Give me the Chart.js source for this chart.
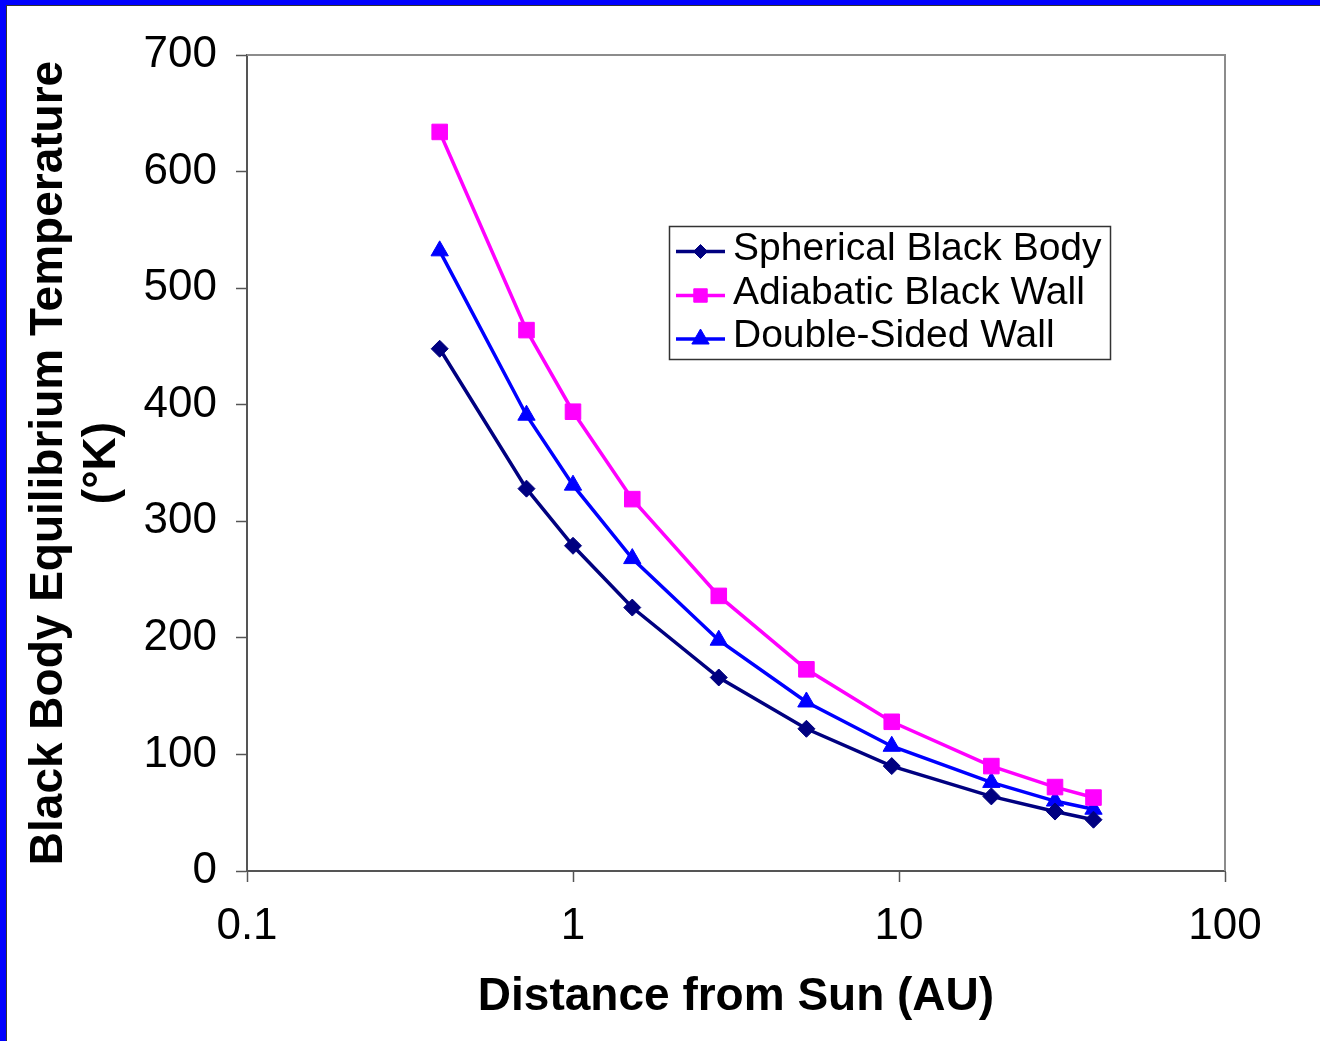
<!DOCTYPE html>
<html>
<head>
<meta charset="utf-8">
<script src="https://cdn.jsdelivr.net/npm/chart.js@4/dist/chart.umd.min.js"></script>
<style>
  html, body { margin: 0; padding: 0; overflow: hidden; background: #0000ff; }
  #frame { position: absolute; left: 6px; top: 5px; width: 1320px; height: 1041px; background: #fff; border-left: 1px solid #333; border-top: 1px solid #333; }
  #wrap { position: absolute; left: 0; top: 0; width: 1320px; height: 1041px; }
</style>
</head>
<body>
<div id="frame"></div>
<div id="wrap"><canvas id="c" width="1320" height="1041"></canvas></div>
<script>
// ---- data ----
const distances = [0.39, 0.72, 1.0, 1.52, 2.8, 5.2, 9.5, 19.2, 30.1, 39.5];
const sphericalBlackBody = [448, 328, 279, 226, 166, 122, 90, 64, 51, 44];
const adiabaticBlackWall = [634, 464, 394, 319, 236, 173, 128, 90, 72, 63];
const doubleSidedWall = [532, 391, 331, 268, 198, 145, 107, 76, 60, 53];
const seriesLabels = ["Spherical Black Body", "Adiabatic Black Wall", "Double-Sided Wall"];
const xTickValues = [0.1, 1, 10, 100];
const yTickValues = [0, 100, 200, 300, 400, 500, 600, 700];
const xTitle = "Distance from Sun (AU)";
const yTitle = ["Black Body Equilibrium Temperature", "(\u00B0K)"];

const FONT = '"Liberation Sans", Arial, Helvetica, sans-serif';
const toPts = (ys) => distances.map((d, i) => ({ x: d, y: ys[i] }));

const styles = [
  { color: '#000080', pointStyle: 'rectRot', r: 8.5, lr: 7 },
  { color: '#ff00ff', pointStyle: 'rect', r: 11, lr: 9.5 },
  { color: '#0000ff', pointStyle: 'triangle', r: 10, lr: 10 }
];
const seriesData = [sphericalBlackBody, adiabaticBlackWall, doubleSidedWall];

const datasets = seriesData.map((ys, i) => ({
  label: seriesLabels[i],
  data: toPts(ys),
  borderColor: styles[i].color,
  backgroundColor: styles[i].color,
  pointBackgroundColor: styles[i].color,
  pointBorderColor: styles[i].color,
  pointStyle: styles[i].pointStyle,
  pointRadius: styles[i].r,
  pointHoverRadius: styles[i].r,
  pointBorderWidth: 1,
  borderWidth: 3.5,
  tension: 0,
  fill: false
}));

const frameAndLegend = {
  id: 'frameAndLegend',
  afterDraw(chart) {
    const ctx = chart.ctx;
    const a = chart.chartArea;
    // top & right plot border
    ctx.save();
    ctx.strokeStyle = '#8c8c8c';
    ctx.lineWidth = 2;
    ctx.beginPath();
    ctx.moveTo(a.left, a.top);
    ctx.lineTo(a.right, a.top);
    ctx.lineTo(a.right, a.bottom);
    ctx.stroke();
    ctx.restore();

    // legend box
    const bx = 669.5, by = 226.5, bw = 441, bh = 133;
    ctx.save();
    ctx.fillStyle = '#ffffff';
    ctx.fillRect(bx, by, bw, bh);
    ctx.strokeStyle = '#333';
    ctx.lineWidth = 1.5;
    ctx.strokeRect(bx, by, bw, bh);
    const rowY = [251.5, 295.5, 339];
    chart.data.datasets.forEach((ds, i) => {
      const y = rowY[i];
      ctx.strokeStyle = ds.borderColor;
      ctx.lineWidth = 3.5;
      ctx.beginPath();
      ctx.moveTo(676, y);
      ctx.lineTo(725, y);
      ctx.stroke();
      ctx.fillStyle = ds.pointBackgroundColor;
      ctx.strokeStyle = ds.pointBorderColor;
      ctx.lineWidth = 1;
      Chart.helpers.drawPoint(ctx, { pointStyle: ds.pointStyle, radius: styles[i].lr, rotation: 0, borderWidth: 1 }, 700.5, y);
      ctx.fillStyle = '#000';
      ctx.font = '39px ' + FONT;
      ctx.textBaseline = 'alphabetic';
      ctx.textAlign = 'left';
      ctx.fillText(ds.label, 733, y + 8);
    });
    ctx.restore();
  }
};

new Chart(document.getElementById('c'), {
  type: 'line',
  data: { datasets },
  plugins: [frameAndLegend],
  options: {
    responsive: false,
    animation: false,
    devicePixelRatio: 1,
    layout: { padding: { left: 0, top: 55, right: 95, bottom: 0 } },
    plugins: { legend: { display: false }, tooltip: { enabled: false } },
    scales: {
      x: {
        type: 'logarithmic',
        min: 0.1, max: 100,
        afterBuildTicks(scale) { scale.ticks = xTickValues.map(v => ({ value: v })); },
        afterFit(scale) { scale.height = 170; },
        ticks: {
          color: '#000',
          font: { family: FONT, size: 44, lineHeight: 1.2 },
          padding: 18,
          maxRotation: 0, autoSkip: false,
          callback: (v) => String(v)
        },
        grid: { drawOnChartArea: false, drawTicks: true, tickLength: 11, tickColor: '#555', tickWidth: 1.5 },
        border: { display: true, color: '#555', width: 2 },
        title: {
          display: true, text: xTitle, color: '#000',
          font: { family: FONT, size: 46, weight: 'bold', lineHeight: 1.15 },
          padding: { top: 0, bottom: 17 }
        }
      },
      y: {
        type: 'linear',
        min: 0, max: 700,
        afterBuildTicks(scale) { scale.ticks = yTickValues.map(v => ({ value: v })); },
        afterFit(scale) { scale.width = 247; },
        ticks: {
          color: '#000',
          font: { family: FONT, size: 44, lineHeight: 1.2 },
          padding: 19,
          callback: (v) => String(v)
        },
        grid: { drawOnChartArea: false, drawTicks: true, tickLength: 11, tickColor: '#555', tickWidth: 1.5 },
        border: { display: true, color: '#555', width: 2 },
        title: {
          display: true, text: yTitle, color: '#000',
          font: { family: FONT, size: 46, weight: 'bold', lineHeight: 1.15 },
          padding: { top: 23, bottom: 0 }
        }
      }
    }
  }
});
</script>
</body>
</html>
